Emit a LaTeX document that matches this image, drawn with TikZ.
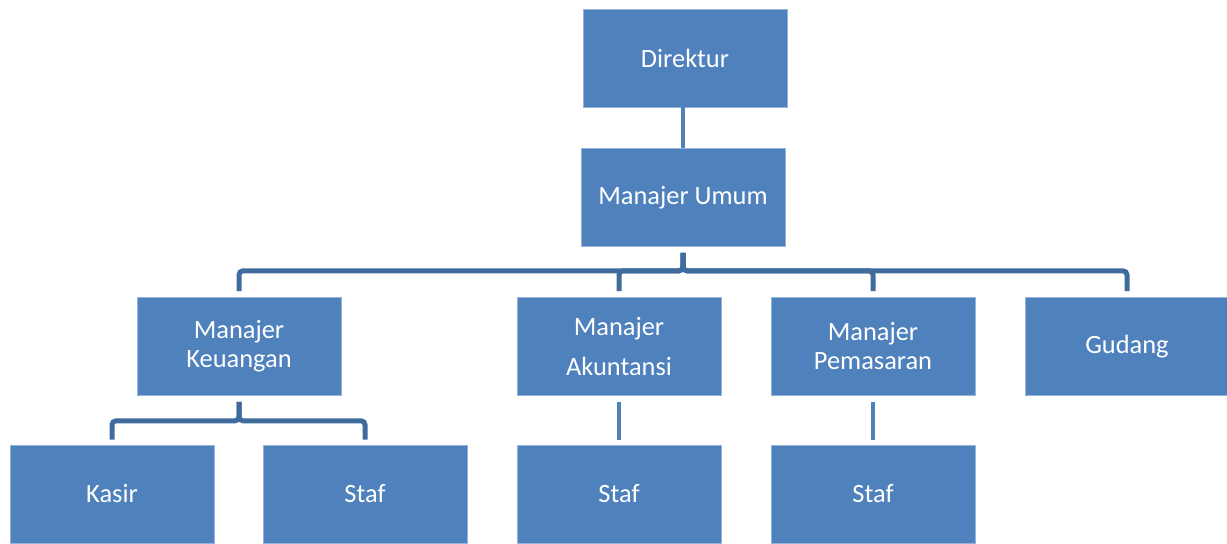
\documentclass[tikz,border=0pt]{standalone}
\usepackage{fontspec}
\setmainfont{Carlito}
\usetikzlibrary{positioning}
\definecolor{boxblue}{HTML}{4F81BD}
\definecolor{linkblue}{HTML}{3F6B9D}

\begin{document}
\begin{tikzpicture}[
  x=0.5pt,y=-0.5pt,
  unit/.style={draw=boxblue!60!white,line width=.3pt,fill=boxblue,text=white,align=center,minimum width=102pt,minimum height=49pt,inner sep=0pt,font=\fontsize{13.2}{14.5}\selectfont},
  bus/.style={draw=linkblue,line width=2.5pt,rounded corners=2pt,shorten <=3pt,shorten >=3pt},
  link/.style={draw=boxblue,line width=1.6pt}
]
\useasboundingbox (0,0) rectangle (1227,543);
\node[unit] (direktur) at (685,58) {Direktur};
\node[unit] (umum) at (683,197.5) {Manajer Umum};
\node[unit] (keuangan) at (239,346.5) {Manajer\\Keuangan};
\node[unit] (akuntansi) at (619,346.5) {Manajer\\[5.5pt]Akuntansi};
\node[unit] (pemasaran) at (873,346.5) {Manajer\\Pemasaran};
\node[unit] (gudang) at (1127,346.5) {Gudang};
\node[unit] (kasir) at (112,494) {Kasir};
\node[unit] (stafkeu) at (365,494) {Staf};
\node[unit] (stafakun) at (619,494) {Staf};
\node[unit] (stafpem) at (873,494) {Staf};
% direktur ke manajer umum
\draw[link] (umum.north) -- (umum.north |- direktur.south);
% manajer umum ke bawahan
\draw[bus] (umum.south) -- ++(0,24) -| (keuangan.north);
\draw[bus] (umum.south) -- ++(0,24) -| (akuntansi.north);
\draw[bus] (umum.south) -- ++(0,24) -| (pemasaran.north);
\draw[bus] (umum.south) -- ++(0,24) -| (gudang.north);
% keuangan
\draw[bus,shorten >=2.5pt] (keuangan.south) -- ++(0,25) -| (kasir.north);
\draw[bus,shorten >=2.5pt] (keuangan.south) -- ++(0,25) -| (stafkeu.north);
\draw[link,shorten <=3pt,shorten >=2.5pt] (akuntansi.south) -- (stafakun.north);
\draw[link,shorten <=3pt,shorten >=2.5pt] (pemasaran.south) -- (stafpem.north);
\end{tikzpicture}
\end{document}
